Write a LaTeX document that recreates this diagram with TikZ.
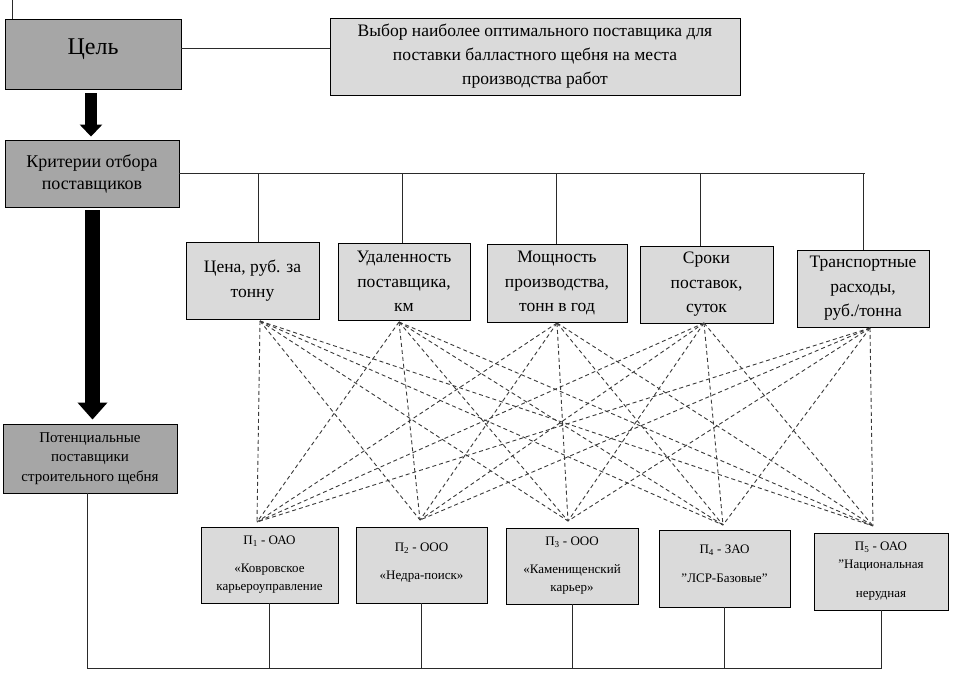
\documentclass[tikz,border=0pt]{standalone}
\usepackage{fontspec}
\setmainfont{Liberation Serif}
\usetikzlibrary{arrows.meta}
\definecolor{darkbox}{HTML}{A6A6A6}
\definecolor{lightbox}{HTML}{DADADA}
\definecolor{dashc}{HTML}{3A3A3A}
\definecolor{linec}{HTML}{2A2A2A}
\begin{document}
\begin{tikzpicture}[x=1pt,y=-1pt,
  box/.style={draw=black, line width=0.9pt, align=center, inner sep=0pt},
  darkb/.style={box, fill=darkbox},
  lightb/.style={box, fill=lightbox},
  link/.style={draw=linec, line width=0.8pt},
  cross/.style={draw=dashc, line width=0.9pt, dash pattern=on 4pt off 3pt},
  crit/.style={lightb, font=\fontsize{17.5}{24.5}\selectfont},
  supp/.style={lightb, font=\fontsize{13}{18}\selectfont},
  bigarrow/.style={line width=#1, draw=black}
]
\useasboundingbox (0,0) rectangle (954,682);
\fill[white] (0,0) rectangle (954,682);

% top level
\node[darkb, minimum width=176pt, minimum height=70pt, font=\fontsize{24}{28}\selectfont, text height=16pt, text depth=14pt] (goal) at (93,54) {Цель};
\node[lightb, minimum width=410pt, minimum height=77pt, font=\fontsize{17.5}{24}\selectfont] (aim) at (535,56.5)
  {Выбор наиболее оптимального поставщика для\\поставки балластного щебня на места\\производства работ};
\node[darkb, minimum width=174pt, minimum height=67pt, font=\fontsize{18}{22}\selectfont] (critmain) at (92,173.5)
  {Критерии отбора\\поставщиков};
\node[darkb, minimum width=174pt, minimum height=69pt, font=\fontsize{15}{19.5}\selectfont] (pot) at (90,458.5)
  {Потенциальные\\поставщики\\строительного щебня};

% criteria
\node[crit, minimum width=133pt, minimum height=77pt] (c1) at (252.5,280.5) {Цена, руб. за\\тонну};
\node[crit, minimum width=132pt, minimum height=77pt] (c2) at (404,281.5) {Удаленность\\поставщика,\\км};
\node[crit, minimum width=140pt, minimum height=78pt] (c3) at (557,283) {Мощность\\производства,\\тонн в год};
\node[crit, minimum width=133pt, minimum height=77pt] (c4) at (706.5,284.5) {Сроки\\поставок,\\суток};
\node[crit, minimum width=132pt, minimum height=77pt] (c5) at (863,288.5) {Транспортные\\расходы,\\руб./тонна};

% suppliers
\node[supp, minimum width=137pt, minimum height=76pt] (s1) at (269.5,565)
  {П\textsubscript{1} - ОАО\\[10pt]«Ковровское\\карьероуправление};
\node[supp, minimum width=131pt, minimum height=76pt, text depth=8pt] (s2) at (421.5,565)
  {П\textsubscript{2} - ООО\\[10pt]«Недра-поиск»};
\node[supp, minimum width=132pt, minimum height=76pt] (s3) at (572,566)
  {П\textsubscript{3} - ООО\\[10pt]«Каменищенский\\карьер»};
\node[supp, minimum width=131pt, minimum height=77pt, text depth=9pt] (s4) at (724.5,568.5)
  {П\textsubscript{4} - ЗАО\\[11pt]\symbol{34}ЛСР-Базовые\symbol{34}};
\node[supp, minimum width=134pt, minimum height=77pt] (s5) at (881,571.5)
  {П\textsubscript{5} - ОАО\\\symbol{34}Национальная\\[11pt]нерудная};

% solid connectors
\coordinate (topend) at (12,0);
\draw[link] (topend) -- (topend |- goal.north);
\draw[link] ([yshift=6pt]goal.east) -- ([yshift=6pt]goal.east -| aim.west);
\coordinate (busend) at (865,173.5);
\draw[link] (critmain.east) -- (busend);
\draw[link] ([xshift=5.5pt]c1.north) -- ([xshift=5.5pt]c1.north |- busend);
\draw[link] ([xshift=-2pt]c2.north) -- ([xshift=-2pt]c2.north |- busend);
\draw[link] ([xshift=-1pt]c3.north) -- ([xshift=-1pt]c3.north |- busend);
\draw[link] ([xshift=-6pt]c4.north) -- ([xshift=-6pt]c4.north |- busend);
\draw[link] (busend -| c5.north) -- (c5.north);

\coordinate (busleft) at (87,668);
\draw[link] (pot.south -| busleft) -- (busleft) -- (busleft -| s5.south) -- (s5.south);
\foreach \s in {s1,s2,s3,s4} \draw[link] (\s.south) -- (\s.south |- busleft);

% big arrows
\draw[bigarrow=12pt, -{Triangle[width=22pt,length=12pt]}, shorten <=4pt, shorten >=3pt]
  ([xshift=-2pt]goal.south) -- ([xshift=-2pt]goal.south |- critmain.north);
\draw[bigarrow=15pt, -{Triangle[width=29pt,length=17pt]}, shorten <=3pt, shorten >=4pt]
  ([xshift=0.5pt]critmain.south) -- ([xshift=0.5pt]critmain.south |- pot.north);

% dashed criteria-supplier links
\coordinate (t1) at (260,321);
\coordinate (t2) at (399,322);
\coordinate (t3) at (557,323);
\coordinate (t4) at (704,323);
\coordinate (t5) at (870,328);
\coordinate (b1) at (257,522);
\coordinate (b2) at (420,520);
\coordinate (b3) at (568,521);
\coordinate (b4) at (723,525);
\coordinate (b5) at (873,526);
\foreach \t in {t1,t2,t3,t4,t5}
  \foreach \b in {b1,b2,b3,b4,b5}
    \draw[cross] (\t) -- (\b);
\end{tikzpicture}
\end{document}
